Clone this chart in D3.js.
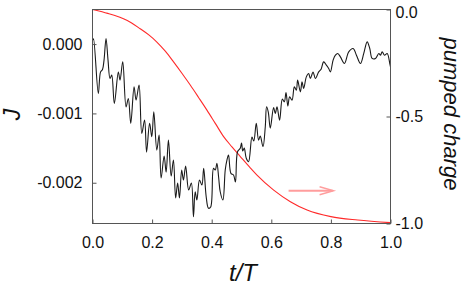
<!DOCTYPE html>
<html><head><meta charset="utf-8">
<script src="https://cdn.jsdelivr.net/npm/d3@7"></script>
<style>
html,body{margin:0;padding:0;background:#fff;}
svg{display:block;font-family:"Liberation Sans",Arial,Helvetica,sans-serif;}
</style></head>
<body>
<svg id="c" width="463" height="287"></svg>
<script>
// ---- data ----
const currentT = [0.001,0.0034,0.0195,0.0269,0.0336,0.0387,0.0454,0.0521,0.0588,0.0645,0.0733,0.0867,0.0924,0.1015,0.1126,0.1203,0.1284,0.1395,0.1462,0.1563,0.1654,0.1748,0.1815,0.1916,0.199,0.2057,0.2158,0.2235,0.2303,0.2403,0.2471,0.2548,0.2639,0.2716,0.279,0.2857,0.2918,0.2992,0.3052,0.3126,0.3227,0.3318,0.3388,0.3445,0.3503,0.359,0.3671,0.3731,0.3815,0.3892,0.3966,0.4061,0.4118,0.4175,0.4235,0.4286,0.4376,0.4454,0.4511,0.4565,0.4645,0.4733,0.4797,0.4867,0.4958,0.5002,0.5042,0.5092,0.516,0.5237,0.5351,0.5412,0.5496,0.5573,0.563,0.5721,0.5798,0.5842,0.5899,0.5966,0.6077,0.6134,0.6192,0.6279,0.637,0.6437,0.6494,0.6555,0.6615,0.6696,0.6773,0.684,0.6884,0.6975,0.7032,0.7086,0.7176,0.7254,0.7311,0.7402,0.7479,0.759,0.7671,0.7758,0.7849,0.7926,0.7983,0.8074,0.8151,0.8229,0.8319,0.8454,0.8598,0.8746,0.8857,0.8992,0.9103,0.9217,0.9304,0.9385,0.9496,0.9607,0.9664,0.9721,0.9798,0.9889,0.9976,1.0];
const currentJ = [0.056,0.078,-0.712,-0.405,-0.366,-0.232,0.081,-0.232,-0.496,-0.448,-0.856,-0.405,-0.52,-0.256,-0.905,-0.784,-1.144,-0.617,-0.808,-0.592,-1.288,-1.097,-1.558,-1.144,-1.337,-0.977,-1.529,-1.313,-1.932,-1.615,-1.846,-1.385,-1.903,-1.673,-2.22,-2.004,-2.22,-1.817,-1.961,-1.759,-2.105,-2.004,-2.49,-2.13,-2.249,-1.961,-2.033,-1.793,-2.202,-2.369,-2.35,-1.793,-1.817,-1.72,-1.932,-2.13,-2.249,-1.817,-1.673,-1.601,-1.865,-1.889,-1.99,-1.553,-1.504,-1.428,-1.543,-1.5,-1.648,-1.697,-1.341,-1.399,-1.144,-1.385,-1.327,-1.481,-1.193,-0.905,-0.981,-1.212,-0.916,-1.0,-0.905,-1.097,-0.794,-0.833,-0.7,-0.895,-0.761,-0.808,-0.617,-0.664,-0.52,-0.689,-0.545,-0.64,-0.473,-0.424,-0.496,-0.405,-0.496,-0.401,-0.362,-0.256,-0.304,-0.352,-0.401,-0.232,-0.16,-0.135,-0.184,-0.28,-0.112,-0.063,-0.16,-0.28,-0.135,0.032,-0.063,-0.207,-0.207,-0.135,-0.16,-0.112,-0.16,-0.135,-0.28,-0.329].map(v => v * 1e-3);
const chargeT = [0,0.025,0.048,0.075,0.104,0.13,0.16,0.19,0.216,0.245,0.272,0.3,0.328,0.356,0.384,0.412,0.44,0.468,0.496,0.53,0.552,0.608,0.664,0.72,0.8,0.89,1.0];
const chargeQ = [0,-0.008,-0.017,-0.028,-0.043,-0.062,-0.09,-0.12,-0.152,-0.196,-0.245,-0.298,-0.353,-0.411,-0.47,-0.532,-0.594,-0.642,-0.687,-0.741,-0.774,-0.844,-0.898,-0.937,-0.968,-0.984,-0.996];
const xTicks = [0,0.2,0.4,0.6,0.8,1.0];
const xTickLabels = ["0.0","0.2","0.4","0.6","0.8","1.0"];
const leftTicks = [0,-0.001,-0.002];
const leftTickLabels = ["0.000","-0.001","-0.002"];
const rightTicks = [0,-0.5,-1.0];
const rightTickLabels = ["0.0","-0.5","-1.0"];
const arrowT = [0.658,0.809];
const arrowQ = -0.847;

// ---- layout ----
const L = 92.5, R = 390.5, T = 9.5, B = 223.5;
const svg = d3.select("#c");
const x = d3.scaleLinear().domain([0,1]).range([L,R]);
const yL = d3.scaleLinear().domain([-0.002588,0.000499]).range([B,T]);
const yR = d3.scaleLinear().domain([-1,0]).range([B,T]);

svg.append("clipPath").attr("id","pc").append("rect")
  .attr("x",L).attr("y",T).attr("width",R-L).attr("height",B-T);

// curves
const gPlot = svg.append("g").attr("clip-path","url(#pc)");
gPlot.append("path")
  .datum(chargeT.map((t,i)=>[t,chargeQ[i]]))
  .attr("fill","none").attr("stroke","#ff2a2a").attr("stroke-width",1.1)
  .attr("d", d3.line().x(d=>x(d[0])).y(d=>yR(d[1])).curve(d3.curveMonotoneX));
gPlot.append("path")
  .datum(currentT.map((t,i)=>[t,currentJ[i]]))
  .attr("fill","none").attr("stroke","#1a1a1a").attr("stroke-width",1.1)
  .attr("stroke-linejoin","round")
  .attr("d", d3.line().x(d=>x(d[0])).y(d=>yL(d[1])).curve(d3.curveCatmullRom.alpha(0.5)));

// arrow
const ax0 = x(arrowT[0]), ax1 = x(arrowT[1]), ay = yR(arrowQ);
svg.append("line").attr("x1",ax0).attr("x2",ax1-1).attr("y1",ay).attr("y2",ay)
  .attr("stroke","#ff9d9d").attr("stroke-width",2);
svg.append("polyline")
  .attr("points",[[ax1-14,ay-4],[ax1,ay],[ax1-14,ay+4]].map(p=>p.join(",")).join(" "))
  .attr("fill","none").attr("stroke","#ff9d9d").attr("stroke-width",1.4);

// axes
const fmt = (labels, ticks) => (d) => labels[ticks.indexOf(d)];
const axB = svg.append("g").attr("transform",`translate(0,${B})`)
  .call(d3.axisBottom(x).tickValues(xTicks).tickFormat(fmt(xTickLabels,xTicks)).tickSizeInner(-4).tickSizeOuter(0).tickPadding(13.5));
const axL = svg.append("g").attr("transform",`translate(${L},0)`)
  .call(d3.axisLeft(yL).tickValues(leftTicks).tickFormat(fmt(leftTickLabels,leftTicks)).tickSizeInner(-4).tickSizeOuter(0).tickPadding(10));
const axR = svg.append("g").attr("transform",`translate(${R},0)`)
  .call(d3.axisRight(yR).tickValues(rightTicks).tickFormat(fmt(rightTickLabels,rightTicks)).tickSizeInner(-4).tickSizeOuter(0).tickPadding(5));
[axB,axL,axR].forEach(g=>{
  g.select(".domain").remove();
  g.selectAll(".tick line").attr("stroke","#555");
  g.selectAll("text").attr("font-size",16).attr("fill","#111")
    .attr("font-family","'Liberation Sans',Arial,Helvetica,sans-serif");
});
axR.selectAll(".tick text").filter(d => d === 0).attr("dy","0.5em");
svg.append("rect").attr("x",L).attr("y",T).attr("width",R-L).attr("height",B-T)
  .attr("fill","none").attr("stroke","#555").attr("stroke-width",1);

// titles
svg.append("text").attr("transform","translate(20,114.5) rotate(-90)")
  .attr("text-anchor","middle").attr("font-style","italic").attr("font-size",23).attr("fill","#111").text("J");
svg.append("text").attr("transform","translate(443.5,114) rotate(90)")
  .attr("text-anchor","middle").attr("font-style","italic").attr("font-size",22).attr("fill","#111").text("pumped charge");
svg.append("text").attr("x",243).attr("y",281)
  .attr("text-anchor","middle").attr("font-style","italic").attr("font-size",24).attr("fill","#111").text("t/T");
</script>
</body></html>
